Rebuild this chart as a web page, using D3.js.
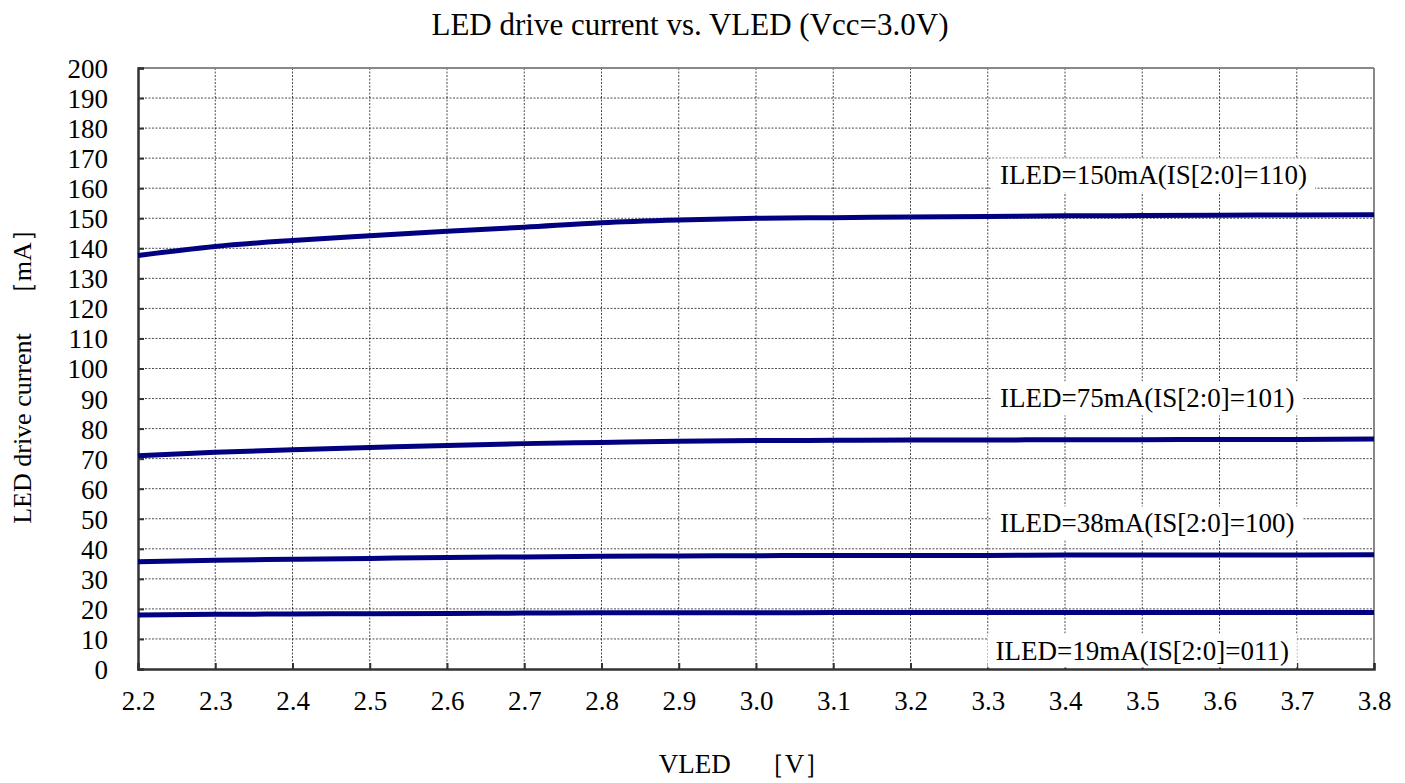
<!DOCTYPE html>
<html><head><meta charset="utf-8">
<script src="https://cdn.jsdelivr.net/npm/d3@7"></script>
<style>
html,body{margin:0;padding:0;background:#fff;}
svg text{font-family:"Liberation Serif","Times New Roman",serif;fill:#000;}
</style></head>
<body><svg id="c" width="1405" height="783"></svg>
<script>
const xValues = [2.2,2.3,2.4,2.5,2.6,2.7,2.8,2.9,3.0,3.1,3.2,3.3,3.4,3.5,3.6,3.7,3.8];
const s150 = [137.6,140.6,142.6,144.2,145.7,147.0,148.5,149.4,150.0,150.2,150.4,150.6,150.8,150.9,151.0,151.1,151.2];
const s75  = [71.0,72.1,73.0,73.7,74.4,75.0,75.4,75.8,76.0,76.1,76.2,76.2,76.3,76.3,76.4,76.4,76.5];
const s38  = [35.7,36.2,36.5,36.8,37.1,37.3,37.5,37.6,37.7,37.8,37.8,37.8,37.9,37.9,37.9,37.9,38.0];
const s19  = [18.0,18.2,18.3,18.4,18.5,18.6,18.7,18.7,18.7,18.8,18.8,18.8,18.8,18.8,18.8,18.8,18.8];
const seriesNames = ["ILED=150mA(IS[2:0]=110)","ILED=75mA(IS[2:0]=101)","ILED=38mA(IS[2:0]=100)","ILED=19mA(IS[2:0]=011)"];
const xTicks = [2.2,2.3,2.4,2.5,2.6,2.7,2.8,2.9,3.0,3.1,3.2,3.3,3.4,3.5,3.6,3.7,3.8];
const yTicks = [0,10,20,30,40,50,60,70,80,90,100,110,120,130,140,150,160,170,180,190,200];
const labelAnchorX = [3.316,3.316,3.316,3.31];
const labelAnchorY = [164.4,90.2,48.6,6.3];

const svg = d3.select("#c");
const L=138,R=1374,T=68,B=669;
const x = d3.scaleLinear().domain([2.2,3.8]).range([L,R]);
const y = d3.scaleLinear().domain([0,200]).range([B,T]);
const FS = 27;

// gridlines
const g = svg.append("g");
g.selectAll("line.v").data(xTicks.slice(1,-1)).join("line")
  .attr("x1",d=>x(d)).attr("x2",d=>x(d)).attr("y1",T).attr("y2",B)
  .attr("stroke","#000").attr("stroke-width",1).attr("stroke-dasharray","2,1.5").attr("opacity",0.7);
g.selectAll("line.h").data(yTicks.slice(1,-1)).join("line")
  .attr("x1",L).attr("x2",R).attr("y1",d=>y(d)).attr("y2",d=>y(d))
  .attr("stroke","#000").attr("stroke-width",1).attr("stroke-dasharray","2,1.5").attr("opacity",0.7);

// frame
svg.append("line").attr("x1",L).attr("x2",R).attr("y1",T).attr("y2",T).attr("stroke","#888").attr("stroke-width",2);
svg.append("line").attr("x1",R).attr("x2",R).attr("y1",T).attr("y2",B).attr("stroke","#888").attr("stroke-width",2);

// axes
const yAxis = d3.axisLeft(y).tickValues(yTicks).tickSize(-6).tickPadding(30).tickFormat(d3.format("d"));
const ya = svg.append("g").attr("transform",`translate(${L},0)`).call(yAxis);
ya.select(".domain").attr("stroke","#333").attr("stroke-width",2.5);
ya.selectAll(".tick line").attr("stroke","#333").attr("stroke-width",2);
ya.selectAll("text").attr("font-size",FS).attr("font-family","Liberation Serif").attr("dy","0.35em");

const xAxis = d3.axisBottom(x).tickValues(xTicks).tickSize(-6).tickPadding(22).tickFormat(d3.format(".1f"));
const xa = svg.append("g").attr("transform",`translate(0,${B})`).call(xAxis);
xa.select(".domain").attr("stroke","#333").attr("stroke-width",2.5);
xa.selectAll(".tick line").attr("stroke","#333").attr("stroke-width",2);
xa.selectAll("text").attr("font-size",FS).attr("font-family","Liberation Serif");

// lines
const allSeries = [s150,s75,s38,s19];
const line = d3.line().x((d,i)=>x(xValues[i])).y(d=>y(d)).curve(d3.curveMonotoneX);
svg.append("g").selectAll("path").data(allSeries).join("path")
  .attr("d",line).attr("fill","none").attr("stroke","#000080").attr("stroke-width",5);

// labels
const lg = svg.append("g");
seriesNames.forEach((n,i)=>{
  const gg = lg.append("g");
  const t = gg.append("text").attr("x",x(labelAnchorX[i])).attr("y",y(labelAnchorY[i]))
    .attr("dy","0.35em").attr("font-size",FS).text(n);
  const bb = t.node().getBBox();
  gg.insert("rect","text").attr("x",bb.x-8).attr("y",bb.y-2).attr("width",bb.width+16).attr("height",bb.height+4).attr("fill","#fff");
});

// titles
svg.append("text").attr("x",690).attr("y",24).attr("dy","0.35em").attr("text-anchor","middle").attr("font-size",31).text("LED drive current vs. VLED (Vcc=3.0V)");
svg.append("text").attr("x",745).attr("y",764).attr("dy","0.35em").attr("text-anchor","middle").attr("font-size",FS).text("VLED　［V］");
svg.append("text").attr("transform","translate(22,370) rotate(-90)").attr("dy","0.35em").attr("text-anchor","middle").attr("font-size",26).text("LED drive current　［mA］");
</script></body></html>
